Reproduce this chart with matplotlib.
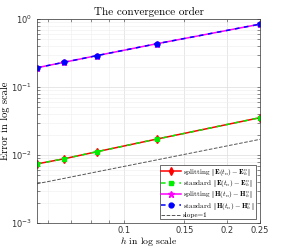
import matplotlib
matplotlib.use('Agg')
import matplotlib.pyplot as plt
from matplotlib.ticker import FixedLocator, NullFormatter

plt.rcParams['mathtext.fontset'] = 'cm'
plt.rcParams['font.family'] = 'DejaVu Sans'
plt.rcParams['axes.formatter.use_mathtext'] = True

# mesh sizes h = 1/18, 1/15, 1/12, 1/8, 1/4
h = [1 / 18, 1 / 15, 1 / 12, 1 / 8, 1 / 4]

err_E_split = [0.0074, 0.0088, 0.0112, 0.0172, 0.0354]
err_E_std = [0.0074, 0.0088, 0.0112, 0.0172, 0.0354]
err_H_split = [0.192, 0.231, 0.290, 0.434, 0.840]
err_H_std = [0.192, 0.231, 0.290, 0.434, 0.840]
slope_ref = [0.00378, 0.00453, 0.00567, 0.0085, 0.0170]

xticks = [0.1, 0.15, 0.2, 0.25]
xtick_labels = ['0.1', '0.15', '0.2', '0.25']

fig = plt.figure(figsize=(2.87, 2.5), dpi=100)
ax = fig.add_axes([0.129, 0.108, 0.777, 0.816])

ax.loglog(h, err_E_split, '-', color='red', marker='d', ms=4, lw=1.1,
          label=r'splitting $\|\mathbf{E}(t_n)-\mathbf{E}_h^n\|$')
ax.loglog(h, err_E_std, '--', color='#00ee00', marker='s', ms=3.5, lw=1.1,
          dashes=(3, 3), label=r'standard $\|\mathbf{E}(t_n)-\mathbf{E}_h^n\|$')
ax.loglog(h, err_H_split, '-', color='magenta', marker='*', ms=5, lw=1.1,
          label=r'splitting $\|\mathbf{H}(t_n)-\mathbf{H}_h^n\|$')
ax.loglog(h, err_H_std, '--', color='blue', marker='o', ms=3.5, lw=1.1,
          dashes=(3, 3), label=r'standard $\|\mathbf{H}(t_n)-\mathbf{H}_h^n\|$')
ax.loglog(h, slope_ref, '--', color='#555555', lw=0.7, label='slope=1')

ax.set_xlim(h[0], h[-1])
ax.set_ylim(1e-3, 1e0)
ax.xaxis.set_major_locator(FixedLocator(xticks))
ax.set_xticklabels(xtick_labels)
ax.xaxis.set_minor_formatter(NullFormatter())

ax.grid(True, which='major', color='#dddddd', lw=0.5)
ax.grid(True, which='minor', color='#eeeeee', lw=0.4)
ax.tick_params(labelsize=6, direction='in', which='both', top=True, right=True,
               length=2, width=0.4, colors='#333333')
ax.tick_params(axis='x', pad=2)
for s in ax.spines.values():
    s.set_linewidth(0.5)
    s.set_color('#333333')

ax.set_title('The convergence order', fontsize=8, fontname='cmr10', pad=3)
ax.set_xlabel(r'$h$ in log scale', fontsize=7, fontname='cmr10', labelpad=0)
ax.set_ylabel('Error in log scale', fontsize=7.5, fontname='cmr10', labelpad=1)

leg = ax.legend(loc='lower right', handlelength=2.8,
                prop={'family': 'cmr10', 'size': 5.1},
                borderpad=0.2, labelspacing=0.05, handletextpad=0.3,
                fancybox=False, framealpha=1, borderaxespad=0.5)
leg.get_frame().set_edgecolor('#333333')
leg.get_frame().set_linewidth(0.5)

fig.savefig('out.png', dpi=100)
